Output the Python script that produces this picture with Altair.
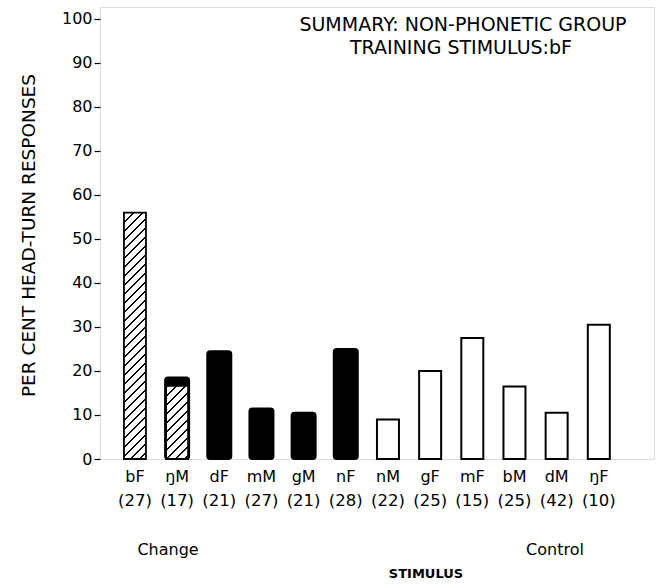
import altair as alt
import pandas as pd

# ---- data ----
stimuli = ["bF", "ŋM", "dF", "mM", "gM", "nF", "nM", "gF", "mF", "bM", "dM", "ŋF"]
counts = [27, 17, 21, 27, 21, 28, 22, 25, 15, 25, 42, 10]
percent = [56, 18.5, 24.5, 11.5, 10.5, 25, 9, 20, 27.5, 16.5, 10.5, 30.5]
kind = ["hatched", "capped", "solid", "solid", "solid", "solid",
        "open", "open", "open", "open", "open", "open"]
hatch_height = [56, 16.6, 0, 0, 0, 0, 0, 0, 0, 0, 0, 0]
y_ticks = [0, 10, 20, 30, 40, 50, 60, 70, 80, 90, 100]
title_lines = ["SUMMARY: NON-PHONETIC GROUP", "TRAINING STIMULUS:bF"]
group_labels = ["Change", "Control"]

df = pd.DataFrame({
    "idx": list(range(len(stimuli))),
    "stimulus": stimuli,
    "count": [f"({c})" for c in counts],
    "percent": percent,
    "kind": kind,
    "hatch": hatch_height,
})

FONT = "DejaVu Sans"
W, H = 554, 452
YMAX = 102.7
XDOM = [-0.71, 12.19]
BARW = 22
PPU = H / YMAX

xs = alt.X("idx:Q", scale=alt.Scale(domain=XDOM, nice=False, zero=False), axis=None)
ys_axis = alt.Axis(values=y_ticks, tickSize=6, tickColor="black", tickWidth=1.2,
                   labelFont=FONT, labelFontSize=16, labelColor="black", labelPadding=2,
                   domain=False, grid=False,
                   title="PER CENT HEAD-TURN RESPONSES", titleFont=FONT,
                   titleFontSize=18.5, titleFontWeight="normal", titleColor="black",
                   titleX=-72, titleY=228, titleAngle=-90, titleAlign="center",
                   titleBaseline="middle")
ysc = alt.Scale(domain=[0, YMAX], nice=False)


def hatch_gradient(w, h, period=9.0, line=2.3):
    s = (w + h) * h / (w * w + h * h)
    total = w + h
    stops = []
    c = 0.0
    while c < total:
        a = c / total
        b = min((c + line) / total, 1.0)
        e = min((c + period) / total, 1.0)
        stops += [{"offset": a, "color": "black"}, {"offset": b, "color": "black"},
                  {"offset": b, "color": "white"}, {"offset": e, "color": "white"}]
        c += period
    return {"gradient": "linear", "x1": 0, "y1": 0, "x2": s * w / h, "y2": s,
            "stops": stops}


base = alt.Chart(df)

open_bars = base.transform_filter("datum.kind == 'open'").mark_bar(
    size=BARW, fill="white", stroke="black", strokeWidth=2
).encode(x=xs, y=alt.Y("percent:Q", scale=ysc, axis=ys_axis))

solid_bars = base.transform_filter("datum.kind == 'solid' || datum.kind == 'capped'").mark_bar(
    size=BARW + 2, fill="black", stroke="black", strokeWidth=2, cornerRadius=3
).encode(x=xs, y=alt.Y("percent:Q", scale=ysc))

hatch_layers = []
for i, k in enumerate(kind):
    if hatch_height[i] > 0:
        grad = hatch_gradient(BARW, hatch_height[i] * PPU)
        hatch_layers.append(
            base.transform_filter(f"datum.idx == {i}").mark_bar(
                size=BARW, fill=grad, stroke="black", strokeWidth=1.8
            ).encode(x=xs, y=alt.Y("hatch:Q", scale=ysc))
        )

names = base.mark_text(font=FONT, fontSize=16, color="black", baseline="middle").encode(
    x=xs, y=alt.value(470), text="stimulus:N")
cnts = base.mark_text(font=FONT, fontSize=16.5, color="black", baseline="middle").encode(
    x=xs, y=alt.value(494), text="count:N")

ann = pd.DataFrame({
    "text": title_lines + group_labels + ["STIMULUS"],
    "px": [363, 361, 68, 455, 326],
    "py": [18, 41, 543, 543, 567],
    "w": ["normal", "normal", "normal", "normal", "bold"],
    "fs": [19, 19, 16, 16, 13],
})
ann_normal = alt.Chart(ann).transform_filter("datum.w == 'normal'").mark_text(
    font=FONT, color="black", baseline="middle", align="center").encode(
    x=alt.X("px:Q", scale=None), y=alt.Y("py:Q", scale=None), text="text:N",
    size=alt.Size("fs:Q", scale=None, legend=None))
ann_bold = alt.Chart(ann).transform_filter("datum.w == 'bold'").mark_text(
    font=FONT, fontSize=13, fontWeight="bold", color="black", baseline="middle",
    align="center").encode(
    x=alt.X("px:Q", scale=None), y=alt.Y("py:Q", scale=None), text="text:N")

chart = alt.layer(open_bars, solid_bars, *hatch_layers, names, cnts, ann_normal, ann_bold).properties(
    width=W, height=H,
    autosize=alt.AutoSizeParams(type="none"),
    padding={"left": 100, "top": 7, "right": 5, "bottom": 126},
).configure_view(stroke="black", strokeWidth=1.6).configure(background="white")

chart.save("out.html", embed_options={"renderer": "svg", "actions": False})
